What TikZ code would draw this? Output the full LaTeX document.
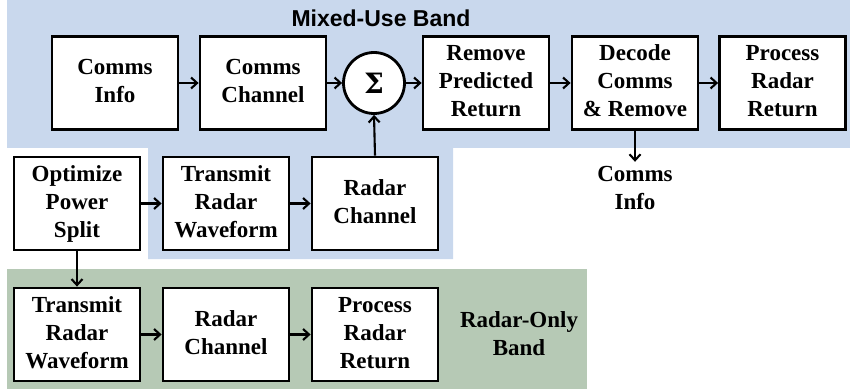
\documentclass[tikz,border=0pt]{standalone}
\usepackage{fontspec}
\newfontfamily\boxserif{Liberation Serif}
\newfontfamily\sigmaserif{DejaVu Serif}
\newfontfamily\titlesans{Liberation Sans}
\usetikzlibrary{arrows.meta}

\definecolor{mixedband}{RGB}{201,216,237}
\definecolor{radarband}{RGB}{182,201,181}

% centred stack of lines for block labels
\newcommand\stacklines[1]{\begin{tabular}{@{}c@{}}#1\end{tabular}}

\tikzset{
  blockbox/.style={draw=black, line width=2.8pt, fill=white,
    minimum width=126pt, minimum height=93pt, inner sep=0pt,
    font=\boxserif\fontsize{23}{28}\selectfont\bfseries},
  sumnode/.style={circle, draw=black, line width=2.8pt, fill=white,
    minimum size=61pt, inner sep=0pt,
    font=\sigmaserif\fontsize{28}{28}\selectfont\bfseries},
  plainlabel/.style={inner sep=0pt,
    font=\boxserif\fontsize{23}{28}\selectfont\bfseries},
  flow/.style={line width=2.1pt, -{Straight Barb[length=6pt,width=11pt,line width=2.1pt]}}
}

\begin{document}
\begin{tikzpicture}[x=1pt, y=-1pt]
\useasboundingbox (0,0) rectangle (850,390);

% frequency bands
\fill[mixedband] (7,0) -- (850,0) -- (850,148) -- (453,148) -- (453,259)
  -- (148,259) -- (148,148) -- (7,148) -- cycle;
\fill[radarband] (7,269) rectangle (587,389);

% mixed-use band, top row
\node[blockbox] (cinfo) at (115,83) {\stacklines{Comms\\Info}};
\node[blockbox] (cchan) at (263,83) {\stacklines{Comms\\Channel}};
\node[sumnode] (sum) at (374,83) {Σ};
\node[blockbox] (rpr) at (486,83) {\stacklines{Remove\\Predicted\\Return}};
\node[blockbox] (dec) at (635,83) {\stacklines{Decode\\Comms\\\& Remove}};
\node[blockbox] (prr) at (782.5,83) {\stacklines{Process\\Radar\\Return}};
\node[plainlabel] (cout) at (635,190) {\stacklines{Comms\\Info}};

% mixed-use band, radar path
\node[blockbox] (ops) at (77,203.5) {\stacklines{Optimize\\Power\\Split}};
\node[blockbox] (trw) at (226,203.5) {\stacklines{Transmit\\Radar\\Waveform}};
\node[blockbox] (rch) at (375,203.5) {\stacklines{Radar\\Channel}};

% radar-only band
\node[blockbox] (trw2) at (77,334.5) {\stacklines{Transmit\\Radar\\Waveform}};
\node[blockbox] (rch2) at (226,334.5) {\stacklines{Radar\\Channel}};
\node[blockbox] (prr2) at (375,334.5) {\stacklines{Process\\Radar\\Return}};
\node[plainlabel] (rotitle) at (519,335.5) {\stacklines{Radar-Only\\Band}};

% band title
\node[inner sep=0pt, font=\titlesans\fontsize{23}{27}\selectfont\bfseries]
  (mixtitle) at (381,18) {Mixed-Use Band};

% connectors
\draw[flow] (cinfo) -- (cchan);
\draw[flow] (cchan) -- (sum);
\draw[flow] (sum) -- (rpr);
\draw[flow] (rpr) -- (dec);
\draw[flow] (dec) -- (prr);
\draw[flow] (dec.south) -- (cout.north);
\draw[flow] (ops) -- (trw);
\draw[flow] (trw) -- (rch);
\draw[flow] (rch.north) -- (sum.south);
\draw[flow] (ops.south) -- (trw2.north);
\draw[flow] (trw2) -- (rch2);
\draw[flow] (rch2) -- (prr2);
\end{tikzpicture}
\end{document}
